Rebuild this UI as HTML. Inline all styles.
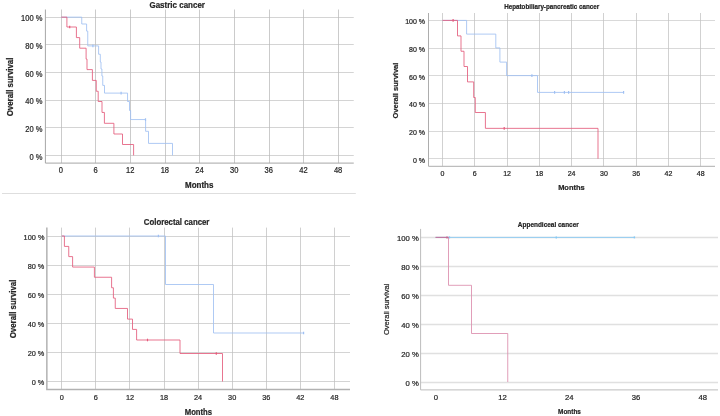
<!DOCTYPE html><html><head><meta charset="utf-8"><title>Overall survival</title>
<style>html,body{margin:0;padding:0;background:#fff}svg{display:block}text{font-family:"Liberation Sans", Arial, sans-serif;fill:#262626;stroke:#262626;stroke-width:0.22}</style></head><body>
<svg width="720" height="416" viewBox="0 0 720 416">
<g>
<rect width="720" height="416" fill="#fff"/>
<line x1="45.40" y1="17.50" x2="353.75" y2="17.50" stroke="#c6c6c6" stroke-width="0.75"/>
<line x1="45.40" y1="44.50" x2="353.75" y2="44.50" stroke="#c6c6c6" stroke-width="0.75"/>
<line x1="45.40" y1="72.50" x2="353.75" y2="72.50" stroke="#c6c6c6" stroke-width="0.75"/>
<line x1="45.40" y1="100.50" x2="353.75" y2="100.50" stroke="#c6c6c6" stroke-width="0.75"/>
<line x1="45.40" y1="127.50" x2="353.75" y2="127.50" stroke="#c6c6c6" stroke-width="0.75"/>
<line x1="45.40" y1="155.50" x2="353.75" y2="155.50" stroke="#c6c6c6" stroke-width="0.75"/>
<line x1="61.50" y1="9.50" x2="61.50" y2="163.10" stroke="#bababa" stroke-width="0.75"/>
<line x1="95.50" y1="9.50" x2="95.50" y2="163.10" stroke="#bababa" stroke-width="0.75"/>
<line x1="130.50" y1="9.50" x2="130.50" y2="163.10" stroke="#bababa" stroke-width="0.75"/>
<line x1="165.50" y1="9.50" x2="165.50" y2="163.10" stroke="#bababa" stroke-width="0.75"/>
<line x1="199.50" y1="9.50" x2="199.50" y2="163.10" stroke="#bababa" stroke-width="0.75"/>
<line x1="234.50" y1="9.50" x2="234.50" y2="163.10" stroke="#bababa" stroke-width="0.75"/>
<line x1="269.50" y1="9.50" x2="269.50" y2="163.10" stroke="#bababa" stroke-width="0.75"/>
<line x1="303.50" y1="9.50" x2="303.50" y2="163.10" stroke="#bababa" stroke-width="0.75"/>
<line x1="338.50" y1="9.50" x2="338.50" y2="163.10" stroke="#bababa" stroke-width="0.75"/>
<path d="M45.40 9.50 V163.10 H353.75" fill="none" stroke="#a6a6a6" stroke-width="1"/>
<line x1="2" y1="193.5" x2="355.8" y2="193.5" stroke="#dedede" stroke-width="1"/>
<path d="M61.30 17.15 L81.75 17.15 L81.75 24.00 L86.60 24.00 L86.60 31.10 L87.75 31.10 L87.75 45.90 L98.60 45.90 L98.60 54.25 L100.30 54.25 L100.30 62.00 L101.00 62.00 L101.00 69.00 L101.90 69.00 L101.90 76.00 L102.75 76.00 L102.75 85.40 L104.50 85.40 L104.50 93.10 L127.55 93.10 L127.55 101.50 L129.50 101.50 L129.50 110.50 L130.60 110.50 L130.60 119.55 L145.60 119.55 L145.60 131.30 L148.50 131.30 L148.50 143.40 L172.50 143.40 L172.50 155.40" fill="none" stroke="#a0c0f2" stroke-width="0.85" stroke-linejoin="miter"/>
<line x1="92.90" y1="44.60" x2="92.90" y2="47.20" stroke="#a0c0f2" stroke-width="1.2"/>
<line x1="121.10" y1="91.80" x2="121.10" y2="94.40" stroke="#a0c0f2" stroke-width="1.2"/>
<line x1="145.50" y1="118.25" x2="145.50" y2="120.85" stroke="#a0c0f2" stroke-width="1.2"/>
<path d="M61.30 17.15 L66.90 17.15 L66.90 27.00 L76.40 27.00 L76.40 37.60 L79.70 37.60 L79.70 48.20 L86.10 48.20 L86.10 59.10 L87.00 59.10 L87.00 69.60 L92.40 69.60 L92.40 80.40 L96.25 80.40 L96.25 91.25 L98.20 91.25 L98.20 101.50 L102.00 101.50 L102.00 112.45 L104.40 112.45 L104.40 123.30 L113.90 123.30 L113.90 134.00 L122.50 134.00 L122.50 144.50 L133.60 144.50 L133.60 155.40" fill="none" stroke="#e45c7c" stroke-width="0.85" stroke-linejoin="miter"/>
<line x1="69.70" y1="25.70" x2="69.70" y2="28.30" stroke="#e45c7c" stroke-width="1.2"/>
<line x1="428.50" y1="20.50" x2="715.00" y2="20.50" stroke="#cccccc" stroke-width="0.75"/>
<line x1="428.50" y1="48.50" x2="715.00" y2="48.50" stroke="#cccccc" stroke-width="0.75"/>
<line x1="428.50" y1="75.50" x2="715.00" y2="75.50" stroke="#cccccc" stroke-width="0.75"/>
<line x1="428.50" y1="103.50" x2="715.00" y2="103.50" stroke="#cccccc" stroke-width="0.75"/>
<line x1="428.50" y1="131.50" x2="715.00" y2="131.50" stroke="#cccccc" stroke-width="0.75"/>
<line x1="428.50" y1="158.50" x2="715.00" y2="158.50" stroke="#cccccc" stroke-width="0.75"/>
<line x1="442.50" y1="13.00" x2="442.50" y2="166.30" stroke="#c2c2c2" stroke-width="0.75"/>
<line x1="474.50" y1="13.00" x2="474.50" y2="166.30" stroke="#c2c2c2" stroke-width="0.75"/>
<line x1="507.50" y1="13.00" x2="507.50" y2="166.30" stroke="#c2c2c2" stroke-width="0.75"/>
<line x1="539.50" y1="13.00" x2="539.50" y2="166.30" stroke="#c2c2c2" stroke-width="0.75"/>
<line x1="571.50" y1="13.00" x2="571.50" y2="166.30" stroke="#c2c2c2" stroke-width="0.75"/>
<line x1="603.50" y1="13.00" x2="603.50" y2="166.30" stroke="#c2c2c2" stroke-width="0.75"/>
<line x1="636.50" y1="13.00" x2="636.50" y2="166.30" stroke="#c2c2c2" stroke-width="0.75"/>
<line x1="668.50" y1="13.00" x2="668.50" y2="166.30" stroke="#c2c2c2" stroke-width="0.75"/>
<line x1="700.50" y1="13.00" x2="700.50" y2="166.30" stroke="#c2c2c2" stroke-width="0.75"/>
<path d="M428.50 13.00 V166.30 H715.00" fill="none" stroke="#adadad" stroke-width="1"/>
<path d="M442.50 20.40 L466.60 20.40 L466.60 34.10 L495.80 34.10 L495.80 47.90 L499.90 47.90 L499.90 62.10 L506.60 62.10 L506.60 75.60 L537.50 75.60 L537.50 92.40 L623.75 92.40 L623.75 92.40" fill="none" stroke="#a0c0f2" stroke-width="0.85" stroke-linejoin="miter"/>
<line x1="531.90" y1="74.30" x2="531.90" y2="76.90" stroke="#a0c0f2" stroke-width="1.2"/>
<line x1="554.60" y1="91.10" x2="554.60" y2="93.70" stroke="#a0c0f2" stroke-width="1.2"/>
<line x1="564.40" y1="91.10" x2="564.40" y2="93.70" stroke="#a0c0f2" stroke-width="1.2"/>
<line x1="568.60" y1="91.10" x2="568.60" y2="93.70" stroke="#a0c0f2" stroke-width="1.2"/>
<line x1="623.60" y1="91.10" x2="623.60" y2="93.70" stroke="#a0c0f2" stroke-width="1.2"/>
<path d="M442.50 20.40 L457.50 20.40 L457.50 35.90 L461.00 35.90 L461.00 51.25 L464.00 51.25 L464.00 66.50 L467.50 66.50 L467.50 81.90 L473.70 81.90 L473.70 97.50 L475.25 97.50 L475.25 112.50 L485.40 112.50 L485.40 128.35 L598.00 128.35 L598.00 158.75" fill="none" stroke="#e45c7c" stroke-width="0.85" stroke-linejoin="miter"/>
<line x1="453.10" y1="19.10" x2="453.10" y2="21.70" stroke="#e45c7c" stroke-width="1.2"/>
<line x1="504.20" y1="127.05" x2="504.20" y2="129.65" stroke="#e45c7c" stroke-width="1.2"/>
<line x1="46.85" y1="236.50" x2="350.00" y2="236.50" stroke="#c6c6c6" stroke-width="0.75"/>
<line x1="46.85" y1="265.50" x2="350.00" y2="265.50" stroke="#c6c6c6" stroke-width="0.75"/>
<line x1="46.85" y1="294.50" x2="350.00" y2="294.50" stroke="#c6c6c6" stroke-width="0.75"/>
<line x1="46.85" y1="323.50" x2="350.00" y2="323.50" stroke="#c6c6c6" stroke-width="0.75"/>
<line x1="46.85" y1="352.50" x2="350.00" y2="352.50" stroke="#c6c6c6" stroke-width="0.75"/>
<line x1="46.85" y1="381.50" x2="350.00" y2="381.50" stroke="#c6c6c6" stroke-width="0.75"/>
<line x1="61.50" y1="227.60" x2="61.50" y2="389.40" stroke="#c0c0c0" stroke-width="0.75"/>
<line x1="95.50" y1="227.60" x2="95.50" y2="389.40" stroke="#c0c0c0" stroke-width="0.75"/>
<line x1="129.50" y1="227.60" x2="129.50" y2="389.40" stroke="#c0c0c0" stroke-width="0.75"/>
<line x1="164.50" y1="227.60" x2="164.50" y2="389.40" stroke="#c0c0c0" stroke-width="0.75"/>
<line x1="198.50" y1="227.60" x2="198.50" y2="389.40" stroke="#c0c0c0" stroke-width="0.75"/>
<line x1="232.50" y1="227.60" x2="232.50" y2="389.40" stroke="#c0c0c0" stroke-width="0.75"/>
<line x1="266.50" y1="227.60" x2="266.50" y2="389.40" stroke="#c0c0c0" stroke-width="0.75"/>
<line x1="300.50" y1="227.60" x2="300.50" y2="389.40" stroke="#c0c0c0" stroke-width="0.75"/>
<line x1="334.50" y1="227.60" x2="334.50" y2="389.40" stroke="#c0c0c0" stroke-width="0.75"/>
<path d="M46.85 227.60 V389.40 H350.00" fill="none" stroke="#b2b2b2" stroke-width="1.5"/>
<path d="M61.80 236.00 L165.50 236.00 L165.50 284.50 L213.50 284.50 L213.50 333.00 L303.75 333.00 L303.75 333.00" fill="none" stroke="#a0c0f2" stroke-width="0.85" stroke-linejoin="miter"/>
<line x1="158.40" y1="234.70" x2="158.40" y2="237.30" stroke="#a0c0f2" stroke-width="1.2"/>
<line x1="303.60" y1="331.70" x2="303.60" y2="334.30" stroke="#a0c0f2" stroke-width="1.2"/>
<path d="M61.80 236.00 L64.40 236.00 L64.40 246.40 L68.75 246.40 L68.75 256.60 L72.60 256.60 L72.60 267.05 L94.40 267.05 L94.40 277.25 L111.60 277.25 L111.60 287.75 L113.40 287.75 L113.40 298.10 L115.25 298.10 L115.25 308.45 L127.50 308.45 L127.50 319.10 L132.50 319.10 L132.50 329.40 L136.60 329.40 L136.60 340.00 L180.00 340.00 L180.00 353.50 L222.50 353.50 L222.50 381.50" fill="none" stroke="#e45c7c" stroke-width="0.85" stroke-linejoin="miter"/>
<line x1="147.50" y1="338.70" x2="147.50" y2="341.30" stroke="#e45c7c" stroke-width="1.2"/>
<line x1="216.30" y1="352.20" x2="216.30" y2="354.80" stroke="#e45c7c" stroke-width="1.2"/>
<line x1="420.60" y1="237.50" x2="718.00" y2="237.50" stroke="#e0e0e0" stroke-width="1.3"/>
<line x1="420.60" y1="266.50" x2="718.00" y2="266.50" stroke="#e0e0e0" stroke-width="1.3"/>
<line x1="420.60" y1="295.50" x2="718.00" y2="295.50" stroke="#e0e0e0" stroke-width="1.3"/>
<line x1="420.60" y1="324.50" x2="718.00" y2="324.50" stroke="#e0e0e0" stroke-width="1.3"/>
<line x1="420.60" y1="353.50" x2="718.00" y2="353.50" stroke="#e0e0e0" stroke-width="1.3"/>
<line x1="420.60" y1="382.50" x2="718.00" y2="382.50" stroke="#e0e0e0" stroke-width="1.3"/>
<path d="M420.60 228.90 V389.90 H718.00" fill="none" stroke="#bcbcbc" stroke-width="1"/>
<path d="M435.60 237.40 L634.50 237.40" fill="none" stroke="#86c9f4" stroke-width="0.85" stroke-linejoin="miter"/>
<line x1="449.40" y1="236.40" x2="449.40" y2="238.40" stroke="#86c9f4" stroke-width="1.4"/>
<line x1="556.30" y1="236.40" x2="556.30" y2="238.40" stroke="#86c9f4" stroke-width="1.4"/>
<line x1="634.40" y1="236.40" x2="634.40" y2="238.40" stroke="#86c9f4" stroke-width="1.4"/>
<path d="M435.60 237.40 L448.50 237.40 L448.50 285.30 L471.50 285.30 L471.50 333.50 L507.75 333.50 L507.75 382.00" fill="none" stroke="#dc8cac" stroke-width="0.85" stroke-linejoin="miter"/>
<path d="M435.60 237.40 L448.50 237.40" fill="none" stroke="#b8709c" stroke-width="0.85" stroke-linejoin="miter"/>
<line x1="447.00" y1="236.40" x2="447.00" y2="238.40" stroke="#c8668f" stroke-width="1.4"/>
</g>
<g>
<text font-size="8.3" text-anchor="end" transform="translate(42.50 21.25) scale(0.91 1)">100 %</text>
<text font-size="8.3" text-anchor="end" transform="translate(42.50 48.92) scale(0.91 1)">80 %</text>
<text font-size="8.3" text-anchor="end" transform="translate(42.50 76.59) scale(0.91 1)">60 %</text>
<text font-size="8.3" text-anchor="end" transform="translate(42.50 104.26) scale(0.91 1)">40 %</text>
<text font-size="8.3" text-anchor="end" transform="translate(42.50 131.93) scale(0.91 1)">20 %</text>
<text font-size="8.3" text-anchor="end" transform="translate(42.50 159.60) scale(0.91 1)">0 %</text>
<text font-size="8.3" text-anchor="middle" transform="translate(60.90 173.30) scale(0.91 1)">0</text>
<text font-size="8.3" text-anchor="middle" transform="translate(95.55 173.30) scale(0.91 1)">6</text>
<text font-size="8.3" text-anchor="middle" transform="translate(130.20 173.30) scale(0.91 1)">12</text>
<text font-size="8.3" text-anchor="middle" transform="translate(164.85 173.30) scale(0.91 1)">18</text>
<text font-size="8.3" text-anchor="middle" transform="translate(199.50 173.30) scale(0.91 1)">24</text>
<text font-size="8.3" text-anchor="middle" transform="translate(234.15 173.30) scale(0.91 1)">30</text>
<text font-size="8.3" text-anchor="middle" transform="translate(268.80 173.30) scale(0.91 1)">36</text>
<text font-size="8.3" text-anchor="middle" transform="translate(303.45 173.30) scale(0.91 1)">42</text>
<text font-size="8.3" text-anchor="middle" transform="translate(338.10 173.30) scale(0.91 1)">48</text>
<text font-size="8.2" text-anchor="middle" font-weight="bold" stroke="#000" stroke-width="0.55" textLength="55.5" lengthAdjust="spacingAndGlyphs" transform="translate(177.20 7.75)" fill="#000">Gastric cancer</text>
<text font-size="8.2" text-anchor="middle" font-weight="bold" stroke="#000" stroke-width="0.55" textLength="28.3" lengthAdjust="spacingAndGlyphs" transform="translate(199.20 188.30)" fill="#000">Months</text>
<text font-size="8.3" text-anchor="middle" font-weight="bold" stroke="#000" stroke-width="0.55" textLength="58.8" lengthAdjust="spacingAndGlyphs" transform="translate(13.15 86.95) rotate(-90)" fill="#000">Overall survival</text>
<text font-size="7.0" text-anchor="end" transform="translate(425.00 24.40)">100 %</text>
<text font-size="7.0" text-anchor="end" transform="translate(425.00 52.07)">80 %</text>
<text font-size="7.0" text-anchor="end" transform="translate(425.00 79.74)">60 %</text>
<text font-size="7.0" text-anchor="end" transform="translate(425.00 107.41)">40 %</text>
<text font-size="7.0" text-anchor="end" transform="translate(425.00 135.08)">20 %</text>
<text font-size="7.0" text-anchor="end" transform="translate(425.00 162.75)">0 %</text>
<text font-size="7.0" text-anchor="middle" transform="translate(442.50 176.00)">0</text>
<text font-size="7.0" text-anchor="middle" transform="translate(474.78 176.00)">6</text>
<text font-size="7.0" text-anchor="middle" transform="translate(507.06 176.00)">12</text>
<text font-size="7.0" text-anchor="middle" transform="translate(539.34 176.00)">18</text>
<text font-size="7.0" text-anchor="middle" transform="translate(571.62 176.00)">24</text>
<text font-size="7.0" text-anchor="middle" transform="translate(603.90 176.00)">30</text>
<text font-size="7.0" text-anchor="middle" transform="translate(636.18 176.00)">36</text>
<text font-size="7.0" text-anchor="middle" transform="translate(668.46 176.00)">42</text>
<text font-size="7.0" text-anchor="middle" transform="translate(700.74 176.00)">48</text>
<text font-size="6.4" text-anchor="middle" font-weight="bold" stroke="#000" stroke-width="0.55" textLength="95" lengthAdjust="spacingAndGlyphs" transform="translate(551.70 8.70)" fill="#000">Hepatobiliary-pancreatic cancer</text>
<text font-size="7.8" text-anchor="middle" font-weight="bold" stroke="#000" stroke-width="0.55" textLength="26.5" lengthAdjust="spacingAndGlyphs" transform="translate(571.40 190.00)" fill="#000">Months</text>
<text font-size="8.0" text-anchor="middle" font-weight="bold" stroke="#000" stroke-width="0.55" textLength="55.8" lengthAdjust="spacingAndGlyphs" transform="translate(397.80 90.60) rotate(-90)" fill="#000">Overall survival</text>
<text font-size="7.9" text-anchor="end" transform="translate(44.40 239.50) scale(0.93 1)">100 %</text>
<text font-size="7.9" text-anchor="end" transform="translate(44.40 268.60) scale(0.93 1)">80 %</text>
<text font-size="7.9" text-anchor="end" transform="translate(44.40 297.70) scale(0.93 1)">60 %</text>
<text font-size="7.9" text-anchor="end" transform="translate(44.40 326.80) scale(0.93 1)">40 %</text>
<text font-size="7.9" text-anchor="end" transform="translate(44.40 355.90) scale(0.93 1)">20 %</text>
<text font-size="7.9" text-anchor="end" transform="translate(44.40 385.00) scale(0.93 1)">0 %</text>
<text font-size="7.9" text-anchor="middle" transform="translate(61.80 399.50) scale(0.93 1)">0</text>
<text font-size="7.9" text-anchor="middle" transform="translate(95.88 399.50) scale(0.93 1)">6</text>
<text font-size="7.9" text-anchor="middle" transform="translate(129.96 399.50) scale(0.93 1)">12</text>
<text font-size="7.9" text-anchor="middle" transform="translate(164.04 399.50) scale(0.93 1)">18</text>
<text font-size="7.9" text-anchor="middle" transform="translate(198.12 399.50) scale(0.93 1)">24</text>
<text font-size="7.9" text-anchor="middle" transform="translate(232.20 399.50) scale(0.93 1)">30</text>
<text font-size="7.9" text-anchor="middle" transform="translate(266.28 399.50) scale(0.93 1)">36</text>
<text font-size="7.9" text-anchor="middle" transform="translate(300.36 399.50) scale(0.93 1)">42</text>
<text font-size="7.9" text-anchor="middle" transform="translate(334.44 399.50) scale(0.93 1)">48</text>
<text font-size="8.2" text-anchor="middle" font-weight="bold" stroke="#000" stroke-width="0.55" textLength="65.6" lengthAdjust="spacingAndGlyphs" transform="translate(176.60 224.50)" fill="#000">Colorectal cancer</text>
<text font-size="8.5" text-anchor="middle" font-weight="bold" stroke="#000" stroke-width="0.55" textLength="27.4" lengthAdjust="spacingAndGlyphs" transform="translate(198.40 414.50)" fill="#000">Months</text>
<text font-size="8.3" text-anchor="middle" font-weight="bold" stroke="#000" stroke-width="0.55" textLength="58.7" lengthAdjust="spacingAndGlyphs" transform="translate(15.85 308.95) rotate(-90)" fill="#000">Overall survival</text>
<text font-size="7.9" text-anchor="end" transform="translate(418.75 241.10) scale(0.975 1)" stroke-width="0.45" fill="#1a1a1a" stroke="#1a1a1a">100 %</text>
<text font-size="7.9" text-anchor="end" transform="translate(418.75 270.02) scale(0.975 1)" stroke-width="0.45" fill="#1a1a1a" stroke="#1a1a1a">80 %</text>
<text font-size="7.9" text-anchor="end" transform="translate(418.75 298.94) scale(0.975 1)" stroke-width="0.45" fill="#1a1a1a" stroke="#1a1a1a">60 %</text>
<text font-size="7.9" text-anchor="end" transform="translate(418.75 327.86) scale(0.975 1)" stroke-width="0.45" fill="#1a1a1a" stroke="#1a1a1a">40 %</text>
<text font-size="7.9" text-anchor="end" transform="translate(418.75 356.78) scale(0.975 1)" stroke-width="0.45" fill="#1a1a1a" stroke="#1a1a1a">20 %</text>
<text font-size="7.9" text-anchor="end" transform="translate(418.75 385.70) scale(0.975 1)" stroke-width="0.45" fill="#1a1a1a" stroke="#1a1a1a">0 %</text>
<text font-size="7.9" text-anchor="middle" transform="translate(436.00 399.90) scale(0.975 1)" stroke-width="0.45" fill="#1a1a1a" stroke="#1a1a1a">0</text>
<text font-size="7.9" text-anchor="middle" transform="translate(502.60 399.90) scale(0.975 1)" stroke-width="0.45" fill="#1a1a1a" stroke="#1a1a1a">12</text>
<text font-size="7.9" text-anchor="middle" transform="translate(569.30 399.90) scale(0.975 1)" stroke-width="0.45" fill="#1a1a1a" stroke="#1a1a1a">24</text>
<text font-size="7.9" text-anchor="middle" transform="translate(636.00 399.90) scale(0.975 1)" stroke-width="0.45" fill="#1a1a1a" stroke="#1a1a1a">36</text>
<text font-size="7.9" text-anchor="middle" transform="translate(702.80 399.90) scale(0.975 1)" stroke-width="0.45" fill="#1a1a1a" stroke="#1a1a1a">48</text>
<text font-size="6.8" text-anchor="middle" font-weight="bold" stroke="#000" stroke-width="0.55" textLength="60.9" lengthAdjust="spacingAndGlyphs" transform="translate(548.30 227.40)" fill="#000">Appendiceal cancer</text>
<text font-size="6.9" text-anchor="middle" font-weight="bold" stroke="#000" stroke-width="0.55" textLength="22.8" lengthAdjust="spacingAndGlyphs" transform="translate(569.50 413.80)" fill="#000">Months</text>
<text font-size="7.3" text-anchor="middle" textLength="51.2" lengthAdjust="spacingAndGlyphs" transform="translate(389.00 309.40) rotate(-90)" fill="#000" stroke-width="0.3" fill="#1a1a1a" stroke="#1a1a1a">Overall survival</text>
</g></svg></body></html>
